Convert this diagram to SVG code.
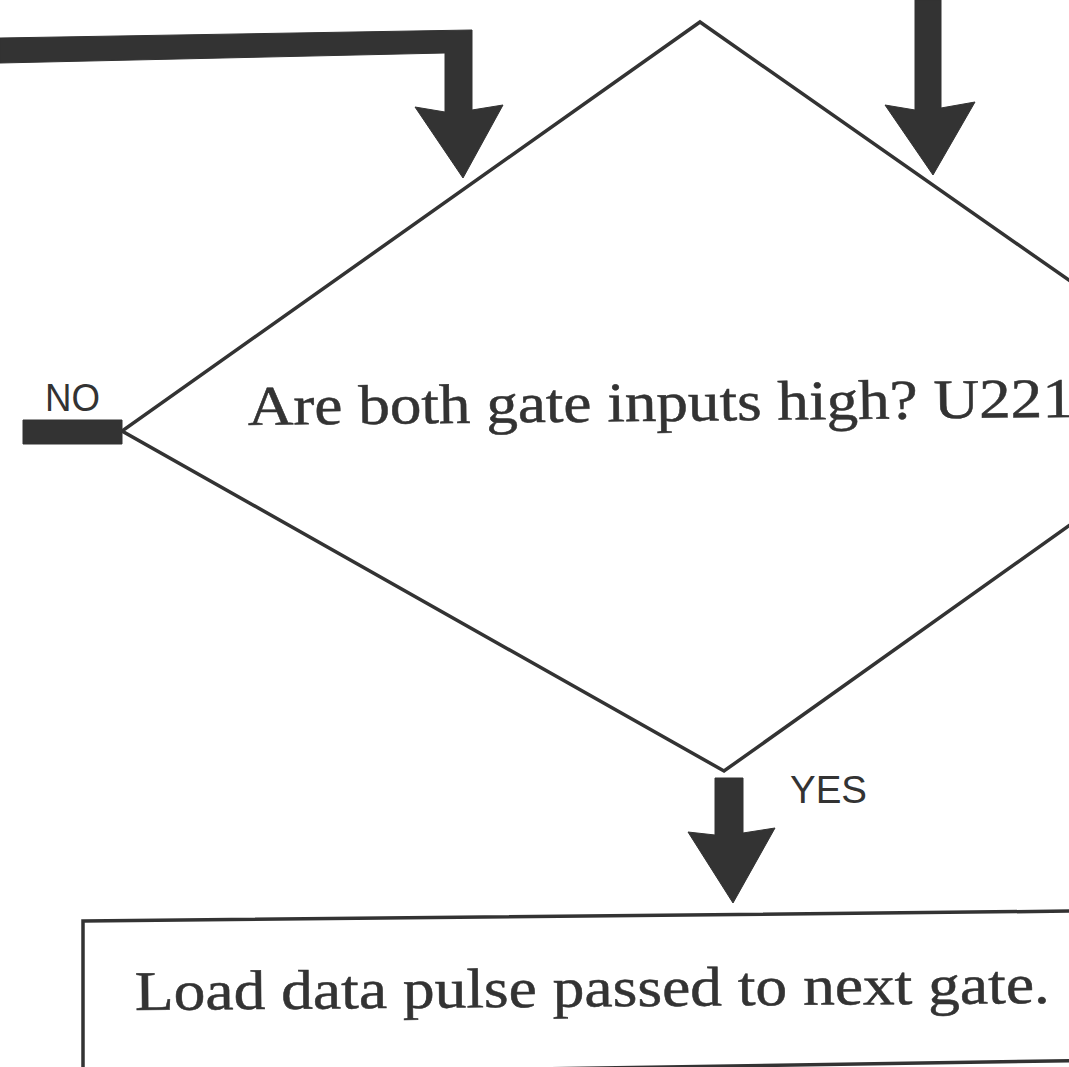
<svg xmlns="http://www.w3.org/2000/svg" width="1069" height="1067" viewBox="0 0 1069 1067">
  <style>
    .shape { fill: #ffffff; stroke: #333333; stroke-width: 3.5; stroke-linejoin: miter; }
    .arrow { fill: #333333; stroke: #333333; stroke-width: 1; stroke-linejoin: miter; }
    .body { font-family: "Liberation Serif", "Times New Roman", serif; font-size: 56px; fill: #333333; stroke: #333333; stroke-width: 0.5; }
    .label { font-family: "Liberation Sans", Arial, sans-serif; font-size: 38px; fill: #333333; }
  </style>
  <rect width="1069" height="1067" fill="#ffffff"/>

  <g id="decision-gate-inputs">
    <polygon class="shape" points="700,22 1243,402 724,771 122,431"/>
    <text class="body" x="248" y="425" textLength="826" lengthAdjust="spacingAndGlyphs" transform="rotate(-0.56 248 425)">Are both gate inputs high? U221</text>
  </g>

  <g id="process-load-data">
    <polygon class="shape" points="83,921 1180,910 1180,1059 83,1076"/>
    <text class="body" x="135" y="1010" textLength="915" lengthAdjust="spacingAndGlyphs" transform="rotate(-0.44 135 1010)">Load data pulse passed to next gate.</text>
  </g>

  <g id="connectors">
    <polygon class="arrow" points="0,38 472,30 472,110 503,105 463,178 415,107 445,112 445,53 0,63"/>
    <polygon class="arrow" points="915,0 941,0 941,108 975,102 933,175 885,105 915,110"/>
    <polygon class="arrow" points="23,420 122,420 122,444 23,444"/>
    <polygon class="arrow" points="715,778 743,778 743,833 775,828 733,903 688,832 715,835"/>
    <text class="label" x="45" y="411" textLength="55" lengthAdjust="spacingAndGlyphs">NO</text>
    <text class="label" x="790" y="803" textLength="77" lengthAdjust="spacingAndGlyphs">YES</text>
  </g>
</svg>
